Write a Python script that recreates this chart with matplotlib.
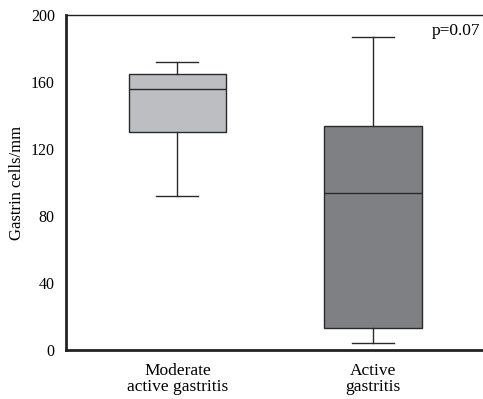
import matplotlib.pyplot as plt

plt.rcParams['font.family'] = ['Liberation Serif', 'DejaVu Serif']

groups = ["Moderate\nactive gastritis", "Active\ngastritis"]
whislo = [92, 4]
q1 = [130, 13]
med = [156, 94]
q3 = [165, 134]
whishi = [172, 187]
colors = ["#bdbec2", "#7f8084"]

stats = []
for i in range(len(groups)):
    stats.append({"label": groups[i], "whislo": whislo[i], "q1": q1[i], "med": med[i],
                  "q3": q3[i], "whishi": whishi[i], "fliers": []})

fig = plt.figure(figsize=(4.83, 3.99), dpi=100)
ax = fig.add_axes([0.1366, 0.1228, 0.8634, 0.8396])

bp = ax.bxp(stats, positions=[1, 2], widths=0.5, patch_artist=True, showfliers=False,
            boxprops=dict(edgecolor="#2a2a2a", linewidth=1.0),
            medianprops=dict(color="#2a2a2a", linewidth=1.0),
            whiskerprops=dict(color="#2a2a2a", linewidth=1.0),
            capprops=dict(color="#2a2a2a", linewidth=1.0), capwidths=0.215)
for patch, c in zip(bp["boxes"], colors):
    patch.set_facecolor(c)

ax.set_xlim(0.43, 2.563)
ax.set_ylim(0, 200)
ax.set_yticks([0, 40, 80, 120, 160, 200])
ax.tick_params(axis="y", length=0, pad=8, labelsize=11.5)
ax.tick_params(axis="x", length=0, pad=9, labelsize=12.5)
for lab in ax.get_xticklabels():
    lab.set_linespacing(1.0)
ax.set_ylabel("Gastrin cells/mm", fontsize=12)
ax.yaxis.set_label_coords(-0.098, 0.5)

ax.spines["right"].set_visible(False)
ax.spines["left"].set_linewidth(2)
ax.spines["bottom"].set_linewidth(2)
ax.spines["top"].set_linewidth(1)
ax.spines["left"].set_color("#222222")
ax.spines["bottom"].set_color("#222222")
ax.spines["top"].set_color("#222222")

ax.text(0.876, 0.953, "p=0.07", transform=ax.transAxes, ha="left", va="center",
        fontsize=12.5, clip_on=False)

fig.savefig("out.png", dpi=100)
